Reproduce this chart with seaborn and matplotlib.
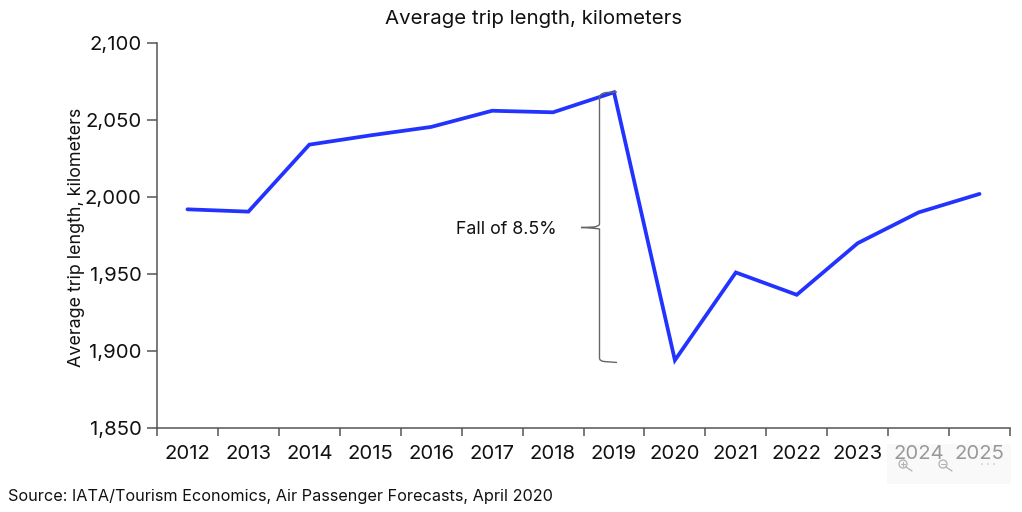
import matplotlib
matplotlib.use("Agg")
import matplotlib.pyplot as plt
from matplotlib.patches import PathPatch, Rectangle, Circle
from matplotlib.path import Path
from matplotlib.transforms import Affine2D
from matplotlib.ticker import FuncFormatter, FixedLocator, NullFormatter
import pandas as pd
import seaborn as sns

years = ["2012", "2013", "2014", "2015", "2016", "2017", "2018",
         "2019", "2020", "2021", "2022", "2023", "2024", "2025"]
trip_km = [1992, 1990.5, 2034, 2040, 2045.5, 2056, 2055,
           2068, 1894, 1951, 1936.5, 1970, 1990, 2002]
title = "Average trip length, kilometers"
source = "Source: IATA/Tourism Economics, Air Passenger Forecasts, April 2020"
note = "Fall of 8.5%"

sns.set_theme(style="white")
plt.rcParams["font.family"] = ["Inter", "DejaVu Sans"]
W, H = 1022, 512
fig = plt.figure(figsize=(W / 100, H / 100), dpi=100)
ax = fig.add_axes([157 / W, 1 - 428 / H, (1010 - 157) / W, (428 - 43) / H])
px = Affine2D().scale(1 / W, -1 / H).translate(0, 1) + fig.transFigure

df = pd.DataFrame({"pos": range(len(years)), "km": trip_km})
sns.lineplot(data=df, x="pos", y="km", ax=ax, color="#2233ff", linewidth=2.7,
             solid_joinstyle="miter", legend=False)

ax.set_xlim(-0.5, len(years) - 0.5)
ax.set_ylim(1850, 2100)
ax.set_yticks(range(1850, 2101, 50))
ax.yaxis.set_major_formatter(FuncFormatter(lambda v, _: f"{int(v):,}"))
ax.xaxis.set_major_locator(FixedLocator([i - 0.5 for i in range(len(years) + 1)]))
ax.xaxis.set_major_formatter(NullFormatter())
ax.set_xticks(range(len(years)), labels=years, minor=True)
ax.tick_params(axis="x", which="minor", length=0, labelsize=14.6, pad=12, labelcolor="#111111")
ax.tick_params(axis="x", which="major", length=6, width=1.1, color="#555555", bottom=True)
ax.tick_params(axis="y", length=7, width=1.1, color="#555555", left=True, labelsize=14.6, pad=4, labelcolor="#111111")
for s in ["top", "right"]:
    ax.spines[s].set_visible(False)
for s in ["left", "bottom"]:
    ax.spines[s].set_color("#555555")
    ax.spines[s].set_linewidth(1.1)
ax.set_xlabel("")
ax.set_ylabel(title, fontsize=12.9, color="#111111", labelpad=0)
ax.yaxis.set_label_coords((85 - 157) / (1010 - 157), 0.5 - (237 - 235.5) / 385)

fig.text(534 / W, 1 - 19 / H, title, ha="center", va="center", fontsize=14.7, color="#111111")
fig.text(8 / W, 1 - 496 / H, source, ha="left", va="center", fontsize=11.7, color="#111111")
fig.text(506 / W, 1 - 230 / H, note, ha="center", va="center", fontsize=12.8, color="#111111")

# curly brace annotation
codes = [Path.MOVETO, Path.LINETO, Path.CURVE3, Path.CURVE3,
         Path.LINETO, Path.CURVE3, Path.CURVE3, Path.LINETO,
         Path.CURVE3, Path.CURVE3, Path.LINETO,
         Path.LINETO, Path.CURVE3, Path.CURVE3, Path.LINETO]
verts = [(617, 92), (606, 92.5), (600, 93.5), (599.5, 97),
         (599.5, 224), (599.5, 226), (594, 227), (581, 227.5),
         (594, 228), (599.5, 229), (599.5, 233),
         (599.5, 358), (599.5, 361), (604, 361.5), (617, 362.5)]
fig.add_artist(PathPatch(Path(verts, codes), transform=px, fill=False,
                         edgecolor="#666666", linewidth=1.0))

# viewer overlay at the lower right
fig.add_artist(Rectangle((887, 444), 124, 40, transform=px, facecolor="#f5f5f5",
                         edgecolor="none", alpha=0.6, zorder=10))
for cx, plus in [(903, True), (943, False)]:
    fig.add_artist(Circle((cx, 464), 4, transform=px, fill=False, edgecolor="#b0b0b0",
                          linewidth=0.9, zorder=11))
    fig.add_artist(plt.Line2D([cx + 3, cx + 9], [467, 471], transform=px, color="#b0b0b0",
                              linewidth=0.9, zorder=11))
    fig.add_artist(plt.Line2D([cx - 2, cx + 2], [464, 464], transform=px, color="#b0b0b0",
                              linewidth=0.8, zorder=11))
    if plus:
        fig.add_artist(plt.Line2D([cx, cx], [462, 466], transform=px, color="#b0b0b0",
                                  linewidth=0.8, zorder=11))
for dx in (982, 988, 994):
    fig.add_artist(Circle((dx, 464), 0.7, transform=px, facecolor="#b0b0b0",
                          edgecolor="none", zorder=11))

fig.savefig("out.png", dpi=100)
